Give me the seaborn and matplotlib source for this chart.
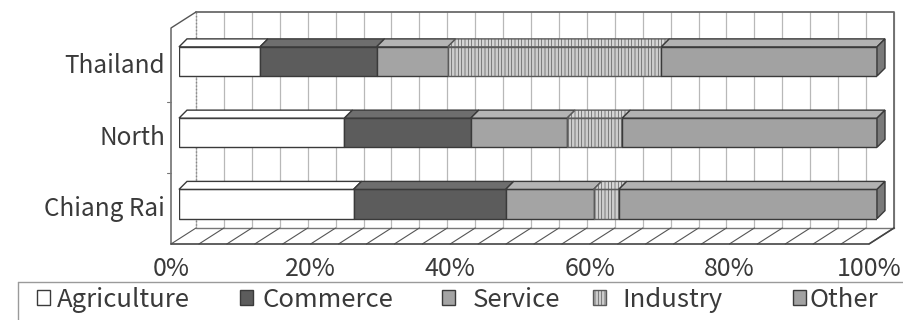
import matplotlib
matplotlib.use("Agg")
import matplotlib.pyplot as plt
import matplotlib.transforms as mtrans
from matplotlib.patches import Polygon, Patch
from matplotlib.lines import Line2D
import seaborn as sns
import numpy as np

# ---------------- data ----------------
regions = ["Thailand", "North", "Chiang Rai"]
sectors = ["Agriculture", "Commerce", "Service", "Industry", "Other"]
agriculture = [11.6, 23.7, 25.0]
commerce = [16.7, 18.1, 21.8]
service = [10.2, 13.8, 12.6]
industry = [30.6, 7.9, 3.6]
other = [30.9, 36.5, 37.0]
xtick_values = [0, 20, 40, 60, 80, 100]
xtick_labels = ["0%", "20%", "40%", "60%", "80%", "100%"]
grid_values = list(range(0, 101, 4))

series = [agriculture, commerce, service, industry, other]

# ---------------- style ----------------
sns.set_theme(style="white")
plt.rcParams["font.family"] = ["Noto Sans CJK JP", "DejaVu Sans"]
plt.rcParams["hatch.linewidth"] = 0.5

face = {"Agriculture": "#ffffff", "Commerce": "#5c5c5c", "Service": "#a4a4a4",
        "Industry": "#cdcdcd", "Other": "#a2a2a2"}
top_face = {"Agriculture": "#ffffff", "Commerce": "#6e6e6e", "Service": "#b4b4b4",
            "Industry": "#d6d6d6", "Other": "#b2b2b2"}
hatches = {"Industry": "|||||"}
edges = {"Agriculture": "#3a3a3a", "Commerce": "#3a3a3a", "Service": "#3a3a3a",
         "Industry": "#5a5a5a", "Other": "#3a3a3a"}
text_color = "#3a3a3a"

DPI = 100
fig = plt.figure(figsize=(9.04, 3.2), dpi=DPI)
ax = fig.add_axes([179 / 904, 1 - 239 / 320, 698 / 904, 216 / 320])

left = np.zeros(len(regions))
containers = []
for s, vals in zip(sectors, series):
    sns.barplot(x=vals, y=regions, orient="h", left=left, width=0.41,
                color=face[s], saturation=1, edgecolor=edges[s], linewidth=1.0,
                hatch=hatches.get(s), errorbar=None, ax=ax, zorder=3)
    containers.append((s, ax.containers[-1]))
    left = left + np.array(vals)

Y_TOP, Y_BOT = -0.540, 2.491
ax.set_xlim(0, 100)
ax.set_ylim(Y_BOT, Y_TOP)
ax.set_xticks([])
ax.set_yticks([])
ax.set_xlabel("")
ax.set_ylabel("")
for sp in ax.spines.values():
    sp.set_visible(False)
ax.patch.set_alpha(0)


def shifted(xs, ys, dx_px, dy_up_px):
    pts = ax.transData.transform(np.column_stack([np.atleast_1d(xs), np.atleast_1d(ys)]).astype(float))
    pts = pts + np.array([dx_px, dy_up_px])
    return ax.transData.inverted().transform(pts)


BACK = (17, 11)     # back wall offset (px right, px up)
FRONT = (-8, -5)    # front plane offset
DEPTH = (8, 8)      # bar depth

# ---- back wall gridlines ----
for g in grid_values:
    p = shifted([g, g], [Y_TOP, Y_BOT], *BACK)
    ax.plot(p[:, 0], p[:, 1], color="#b8b8b8", lw=0.9, zorder=0.5, clip_on=False)
p = shifted([0, 100, 100], [Y_TOP, Y_TOP, Y_BOT], *BACK)
ax.plot(p[:, 0], p[:, 1], color="#6a6a6a", lw=1.3, zorder=0.6, clip_on=False)
p = shifted([0, 0], [Y_TOP, Y_BOT], *BACK)
ax.plot(p[:, 0], p[:, 1], color="#888888", lw=1.0, ls=(0, (1, 1.5)), zorder=0.6, clip_on=False)

# ---- floor ----
fb = shifted([0, 100], [Y_BOT, Y_BOT], *FRONT)
bb = shifted([0, 100], [Y_BOT, Y_BOT], *BACK)
ax.plot(bb[:, 0], bb[:, 1], color="#777777", lw=1.0, zorder=0.6, clip_on=False)
ax.plot([fb[0, 0], fb[1, 0], bb[1, 0]], [fb[0, 1], fb[1, 1], bb[1, 1]],
        color="#444444", lw=1.2, zorder=0.7, clip_on=False)
for g in grid_values:
    f = shifted(g, Y_BOT, *FRONT)[0]
    b = shifted(g, Y_BOT, *BACK)[0]
    ax.plot([f[0], b[0]], [f[1], b[1]], color="#555555", lw=0.8, zorder=0.6, clip_on=False)

# ---- left wall ----
lw_pts = shifted([0, 0], [Y_BOT, Y_TOP], *FRONT)
tb = shifted(0, Y_TOP, *BACK)[0]
ax.plot([lw_pts[0, 0], lw_pts[1, 0], tb[0]], [lw_pts[0, 1], lw_pts[1, 1], tb[1]],
        color="#555555", lw=1.0, zorder=0.7, clip_on=False)
for yb in [0.5, 1.5]:
    a = shifted(0, yb, *FRONT)[0]
    c = shifted(0, yb, FRONT[0] - 4, FRONT[1])[0]
    ax.plot([a[0], c[0]], [a[1], c[1]], color="#777777", lw=0.8, zorder=0.7, clip_on=False)

# ---- 3D faces of bars ----
n_seg = len(containers)
for k, (s, bars) in enumerate(containers):
    for p in bars.patches:
        x0, w = p.get_x(), p.get_width()
        y0, h = p.get_y(), p.get_height()
        ytop, ybot = min(y0, y0 + h), max(y0, y0 + h)
        x1 = x0 + w
        back = shifted([x1, x0], [ytop, ytop], *DEPTH)
        poly = Polygon([[x0, ytop], [x1, ytop], back[0], back[1]], closed=True,
                       facecolor=top_face[s], edgecolor=edges[s], lw=1.0,
                       hatch=hatches.get(s), zorder=3.2, clip_on=False)
        ax.add_patch(poly)
        if k == n_seg - 1:
            side = shifted([x1, x1], [ytop, ybot], *DEPTH)
            poly = Polygon([[x1, ytop], side[0], side[1], [x1, ybot]], closed=True,
                           facecolor="#7a7a7a", edgecolor=edges[s], lw=1.0,
                           zorder=3.2, clip_on=False)
            ax.add_patch(poly)

# ---- labels ----
ylab_tr = ax.transData + mtrans.ScaledTranslation(-14 / DPI, -5 / DPI, fig.dpi_scale_trans)
for i, r in enumerate(regions):
    ax.text(0, i, r, transform=ylab_tr, ha="right", va="center",
            fontsize=17.5, color=text_color, clip_on=False)

xlab_tr = ax.transData + mtrans.ScaledTranslation(-8 / DPI, -30 / DPI, fig.dpi_scale_trans)
for v, lab in zip(xtick_values, xtick_labels):
    ax.text(v, Y_BOT, lab, transform=xlab_tr, ha="center", va="center",
            fontsize=18, color=text_color, clip_on=False)

# ---- legend (one entry per sector, placed as in the original) ----
LEG_FS = 18.5
legend_x_px = [37, 240, 442, 593, 793]
legend_gap_px = [7, 9, 17, 16, 3]
for s, lx, gap in zip(sectors, legend_x_px, legend_gap_px):
    h = Patch(facecolor=face[s], edgecolor=edges[s], hatch=hatches.get(s), lw=1.0)
    fig.legend([h], [s], loc="center left",
               bbox_to_anchor=(lx / 904, 1 - 300 / 320), frameon=False,
               fontsize=LEG_FS, handlelength=0.52, handleheight=0.52,
               handletextpad=gap / (LEG_FS * DPI / 72),
               labelcolor=text_color, borderpad=0, borderaxespad=0)
fig.add_artist(Line2D([18 / 904, 1.0], [1 - 282 / 320] * 2, transform=fig.transFigure,
                      color="#9a9a9a", lw=1.0))
fig.add_artist(Line2D([18 / 904] * 2, [1 - 282 / 320, 0], transform=fig.transFigure,
                      color="#9a9a9a", lw=1.0))

fig.savefig("out.png", dpi=DPI, facecolor="white")
